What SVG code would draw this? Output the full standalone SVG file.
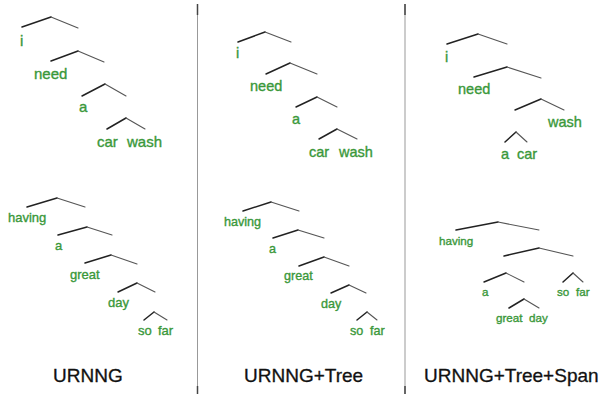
<svg xmlns="http://www.w3.org/2000/svg" width="600" height="394" viewBox="0 0 600 394">
<style>
.l{stroke:#222;stroke-width:1.5;fill:none;stroke-linecap:round}
.r{stroke:#555;stroke-width:1.1;fill:none;stroke-linecap:round}
.w{fill:#3a983a;stroke:#3a983a;stroke-width:0.35;font-family:"Liberation Sans",Arial,sans-serif}
.t1{font-size:15px}.t2{font-size:14.5px}.b1{font-size:13px}.b2{font-size:12.6px}.b3{font-size:11.6px}
.lab{fill:#111;stroke:#111;stroke-width:0.3;font-family:"Liberation Sans",Arial,sans-serif;font-size:19px}
.div{stroke:#999;stroke-width:1}
.tick{stroke:#444;stroke-width:1.5}
</style>
<rect width="600" height="394" fill="#fff"/>
<g id="dividers">
<line class="div" x1="197.5" y1="4" x2="197.5" y2="394"/>
<line class="tick" x1="197.5" y1="4" x2="197.5" y2="15"/>
<line class="tick" x1="197.5" y1="386" x2="197.5" y2="394"/>
<line class="div" x1="405" y1="4" x2="405" y2="394"/>
<line class="tick" x1="405" y1="4" x2="405" y2="15"/>
<line class="tick" x1="405" y1="386" x2="405" y2="394"/>
</g>
<g id="connectors">
<path class="l" d="M22 27 L51 17"/><path class="r" d="M51 17 L78 28"/>
<path class="l" d="M51 61 L78 51"/><path class="r" d="M78 51 L104 62"/>
<path class="l" d="M82 96 L105 84"/><path class="r" d="M105 84 L126 96"/>
<path class="l" d="M107 129 L126 118"/><path class="r" d="M126 118 L145 129"/>
<path class="l" d="M27 207 L57 198"/><path class="r" d="M57 198 L85 207"/>
<path class="l" d="M58 235 L87 227"/><path class="r" d="M87 227 L112 235"/>
<path class="l" d="M85 263 L111 255"/><path class="r" d="M111 255 L137 264"/>
<path class="l" d="M118 292 L137 283"/><path class="r" d="M137 283 L155 292"/>
<path class="l" d="M144 320 L154 312"/><path class="r" d="M154 312 L167 320"/>
<path class="l" d="M238 42 L265 32"/><path class="r" d="M265 32 L291 42"/>
<path class="l" d="M266 74 L290 63"/><path class="r" d="M290 63 L317 74"/>
<path class="l" d="M296 107 L317 97"/><path class="r" d="M317 97 L337 107"/>
<path class="l" d="M319 139 L337 129"/><path class="r" d="M337 129 L357 139"/>
<path class="l" d="M243 211 L271 202"/><path class="r" d="M271 202 L299 211"/>
<path class="l" d="M273 238 L298 230"/><path class="r" d="M298 230 L324 238"/>
<path class="l" d="M299 266 L324 257"/><path class="r" d="M324 257 L349 266"/>
<path class="l" d="M331 293 L349 285"/><path class="r" d="M349 285 L366 293"/>
<path class="l" d="M357 320 L367 312"/><path class="r" d="M367 312 L377 320"/>
<path class="l" d="M447 44 L478 34"/><path class="r" d="M478 34 L507 44"/>
<path class="l" d="M474 77 L507 67"/><path class="r" d="M507 67 L541 78"/>
<path class="l" d="M515 110 L541 99"/><path class="r" d="M541 99 L564 110"/>
<path class="l" d="M505 142 L516 132"/><path class="r" d="M516 132 L527 142"/>
<path class="l" d="M456 230 L498 222"/><path class="r" d="M498 222 L539 230"/>
<path class="l" d="M504 256 L539 248"/><path class="r" d="M539 248 L573 256"/>
<path class="l" d="M484 282 L506 273"/><path class="r" d="M506 273 L524 282"/>
<path class="l" d="M563 282 L573 273"/><path class="r" d="M573 273 L583 282"/>
<path class="l" d="M509 308 L524 299"/><path class="r" d="M524 299 L539 308"/>
</g>
<g id="panel1-top">
<text class="w t1" x="20" y="46">i</text>
<text class="w t1" x="34" y="79">need</text>
<text class="w t1" x="79" y="112">a</text>
<text class="w t1" x="97" y="147">car</text>
<text class="w t1" x="127" y="147">wash</text>
</g>
<g id="panel1-bottom">
<text class="w b1" x="8" y="222">having</text>
<text class="w b1" x="55" y="250">a</text>
<text class="w b1" x="70" y="279">great</text>
<text class="w b1" x="108" y="307">day</text>
<text class="w b1" x="138" y="335">so</text>
<text class="w b1" x="158" y="335">far</text>
</g>
<g id="panel2-top">
<text class="w t2" x="236" y="58">i</text>
<text class="w t2" x="250" y="91">need</text>
<text class="w t2" x="292" y="124">a</text>
<text class="w t2" x="309" y="157">car</text>
<text class="w t2" x="339" y="157">wash</text>
</g>
<g id="panel2-bottom">
<text class="w b2" x="224" y="226">having</text>
<text class="w b2" x="269" y="253">a</text>
<text class="w b2" x="284" y="280">great</text>
<text class="w b2" x="321" y="308">day</text>
<text class="w b2" x="350" y="335">so</text>
<text class="w b2" x="370" y="335">far</text>
</g>
<g id="panel3-top">
<text class="w t2" x="445" y="62">i</text>
<text class="w t2" x="458" y="94">need</text>
<text class="w t2" x="548" y="127">wash</text>
<text class="w t2" x="501" y="159">a</text>
<text class="w t2" x="517" y="159">car</text>
</g>
<g id="panel3-bottom">
<text class="w b3" x="439" y="245">having</text>
<text class="w b3" x="482" y="296">a</text>
<text class="w b3" x="557" y="296">so</text>
<text class="w b3" x="576" y="296">far</text>
<text class="w b3" x="496" y="322">great</text>
<text class="w b3" x="529" y="322">day</text>
</g>
<g id="labels">
<text class="lab" x="53" y="382">URNNG</text>
<text class="lab" x="244" y="382">URNNG+Tree</text>
<text class="lab" x="424" y="382">URNNG+Tree+Span</text>
</g>
</svg>
